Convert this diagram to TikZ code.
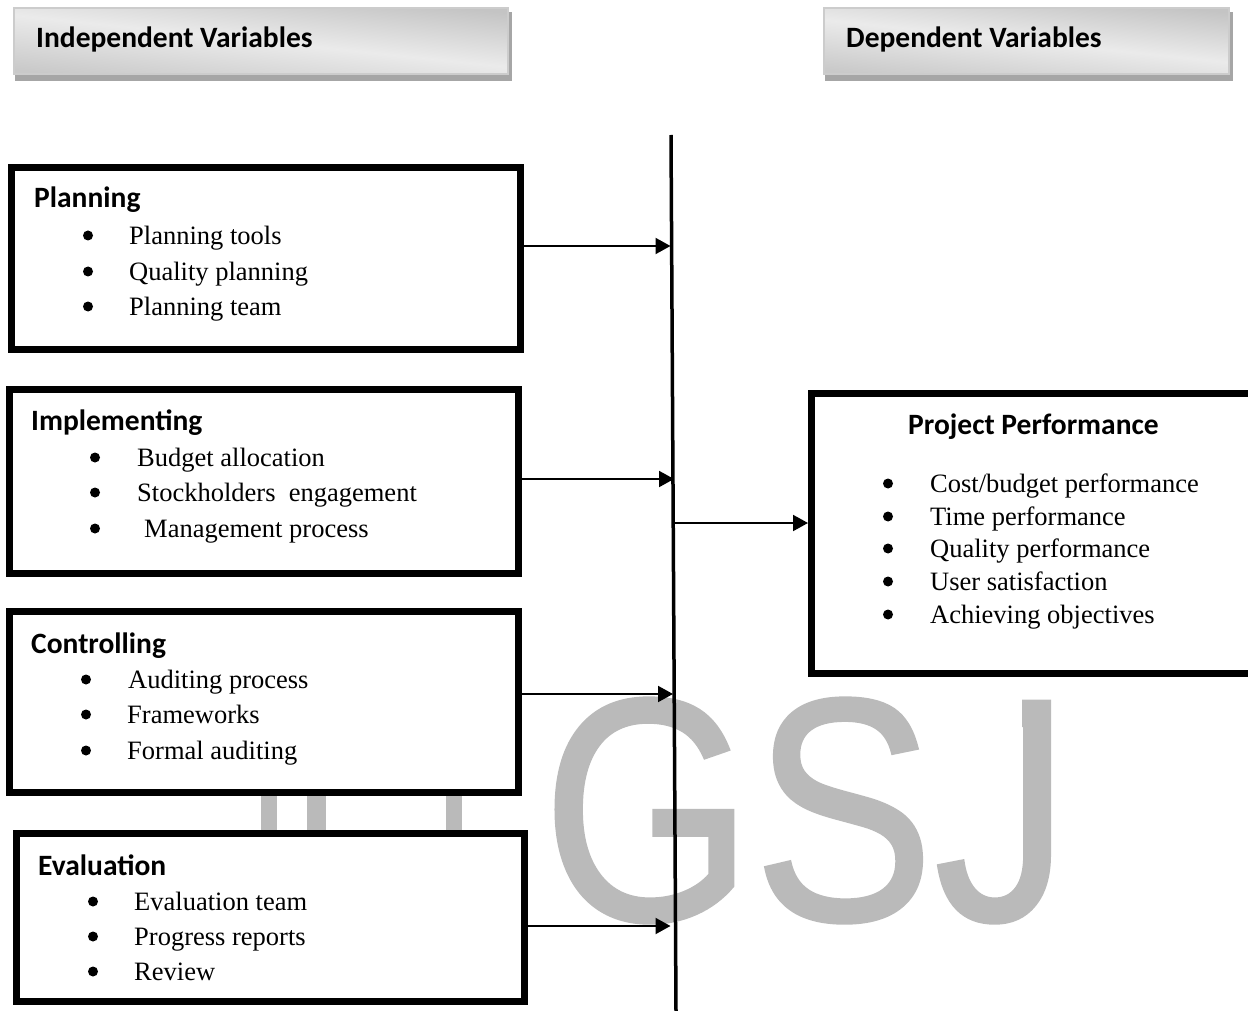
\documentclass[tikz,border=0pt]{standalone}
\usepackage{fontspec}
\setmainfont{Liberation Serif}
\newfontfamily\headfont{Carlito}[BoldFont=Carlito Bold]
\newfontfamily\markfont[FakeBold=1]{Liberation Sans}
\usetikzlibrary{arrows.meta}
\tikzset{
  frame/.style={draw=black,line width=7pt,fill=white,anchor=north west,inner sep=0pt},
  itemtext/.style={anchor=base west,inner sep=0pt,font=\fontsize{26.5}{30}\selectfont},
  boldtext/.style={anchor=base west,inner sep=0pt,font=\headfont\bfseries\fontsize{29.5}{34}\selectfont},
  blt/.style={circle,fill=black,inner sep=0pt,minimum size=10pt},
  arr/.style={line width=2pt,-{Triangle[length=15pt,width=16pt]}},
  headbox/.style={draw=black!20,line width=2pt,anchor=north west,inner sep=0pt,
     top color=black!23,bottom color=black!21,middle color=black!8,shading angle=-6},
  shadowbox/.style={fill=black!35,draw=none,anchor=north west,inner sep=0pt}
}
\newcommand{\itm}[5]{%
  \node[blt] (#1b) at (#2,#4-8.5) {};
  \node[itemtext] (#1t) at (#3,#4) {#5};}
\begin{document}
\begin{tikzpicture}[x=1pt,y=-1pt]
\useasboundingbox (0,0) rectangle (1248,1011);
% watermark
\node[anchor=base west,inner sep=0pt,text=black!27] (mark) at (542,920)
  {\markfont\scalebox{.853}[1]{\fontsize{318}{318}\selectfont GSJ}};
\fill[white] (975,690) rectangle (1022.3,736);
\fill[black!27] (261,795) rectangle (277,830);
\fill[black!27] (307,795) rectangle (326,830);
\fill[black!27] (446,795) rectangle (462,830);
% header boxes
\node[shadowbox,minimum width=497pt,minimum height=69pt] (hs1) at (15,12) {};
\node[headbox,minimum width=494pt,minimum height=66pt] (h1) at (13,7) {};
\node[boldtext] (h1t) at (36,48) {Independent Variables};
\node[shadowbox,minimum width=408pt,minimum height=69pt] (hs2) at (825,12) {};
\node[headbox,minimum width=405pt,minimum height=66pt] (h2) at (823,7) {};
\node[boldtext] (h2t) at (846,48) {Dependent Variables};
% boxes
\node[frame,minimum width=509pt,minimum height=182pt] (planning) at (8,164) {};
\node[frame,minimum width=509pt,minimum height=184pt] (implementing) at (6,386) {};
\node[frame,minimum width=509pt,minimum height=181pt] (controlling) at (6,608) {};
\node[frame,minimum width=508pt,minimum height=168pt] (evaluation) at (13,830) {};
\node[frame,minimum width=446pt,minimum height=280pt] (performance) at (808,390) {};
% axis
\coordinate (axtop) at (671,135);
\coordinate (axbot) at (676,1011);
\draw[line width=3.5pt] (axtop) -- (axbot);
% planning
\node[boldtext] (pl) at (34,208) {Planning};
\itm{pa}{88}{129}{244}{Planning tools}
\itm{pb}{88}{129}{280}{Quality planning}
\itm{pc}{88}{129}{315}{Planning team}
% implementing
\node[boldtext] (im) at (31,430) {Implementing};
\itm{ia}{95}{137}{466}{Budget allocation}
\itm{ib}{95}{137}{501}{Stockholders\ \ engagement}
\itm{ic}{95}{144}{537}{Management process}
% controlling
\node[boldtext] (co) at (31,653) {Controlling};
\itm{ca}{86}{128}{688}{Auditing process}
\itm{cb}{86}{127}{723}{Frameworks}
\itm{cc}{86}{127}{759}{Formal auditing}
% evaluation
\node[boldtext] (ev) at (38,875) {Evaluation};
\itm{ea}{93}{134}{910}{Evaluation team}
\itm{eb}{93}{134}{945}{Progress reports}
\itm{ec}{93}{134}{980}{Review}
% performance
\node[boldtext] (pp) at (908,434) {Project Performance};
\itm{ra}{888}{930}{492}{Cost/budget performance}
\itm{rb}{888}{930}{525}{Time performance}
\itm{rc}{888}{930}{557}{Quality performance}
\itm{rd}{888}{930}{590}{User satisfaction}
\itm{re}{888}{930}{623}{Achieving objectives}
% connectors
\coordinate (e1) at (670.5,246);
\coordinate (e2) at (674,479);
\coordinate (e3) at (673,694);
\coordinate (e4) at (670.5,926);
\coordinate (s5) at (674,523);
\draw[arr] (planning.east |- e1) -- (e1);
\draw[arr] (implementing.east |- e2) -- (e2);
\draw[arr] (controlling.east |- e3) -- (e3);
\draw[arr] (evaluation.east |- e4) -- (e4);
\draw[arr] (s5) -- (performance.west |- s5);
\end{tikzpicture}
\end{document}
